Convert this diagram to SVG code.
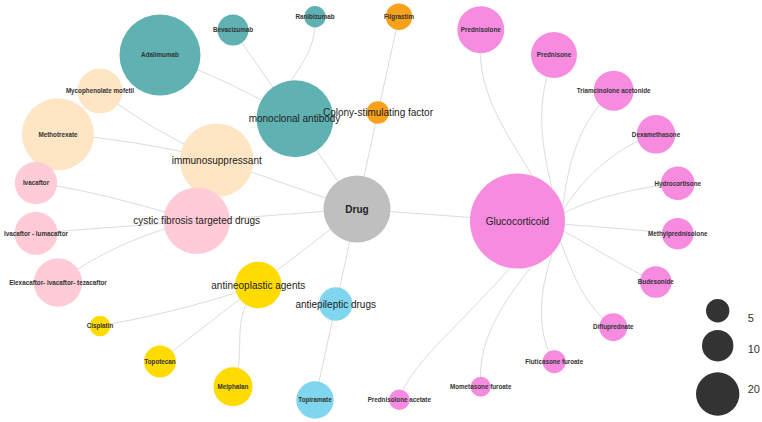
<svg xmlns="http://www.w3.org/2000/svg" width="762" height="422" viewBox="0 0 762 422">
<style>
.e{fill:none;stroke:#dcdcdc;stroke-width:1}
.lf{font-family:"Liberation Sans",Arial,sans-serif;font-size:6.3px;font-weight:bold;fill:#333;text-anchor:middle}
.ct{font-family:"Liberation Sans",Arial,sans-serif;font-size:10px;fill:#222;text-anchor:middle}
.teal{fill:#60b2b2}.peach{fill:#fee5c3}.pink{fill:#ffcbd7}.gold{fill:#ffdb00}.blue{fill:#7fd6ee}.orange{fill:#f8a11b}.mag{fill:#f68be0}.gray{fill:#bfbfbf}
.lg{fill:#333}
.lt{font-family:"Liberation Sans",Arial,sans-serif;font-size:11px;fill:#333}
</style>
<rect width="762" height="422" fill="#fff"/>
<g id="edges">
<path class="e" d="M357,209 L517,221"/>
<path class="e" d="M357,209 L295,119"/>
<path class="e" d="M357,209 L378,112"/>
<path class="e" d="M357,209 L217,160"/>
<path class="e" d="M357,209 L197,221"/>
<path class="e" d="M357,209 L258,285"/>
<path class="e" d="M357,209 L336,304"/>
<path class="e" d="M378,112 L399,17"/>
<path class="e" d="M160,55 Q230,80 295,119"/>
<path class="e" d="M233,30 L295,119"/>
<path class="e" d="M315,17 C317,45 302,64 290,82 L295,119"/>
<path class="e" d="M100,91 Q150,130 217,160"/>
<path class="e" d="M58,134 Q140,140 217,160"/>
<path class="e" d="M36,183 C90,190 140,205 197,221"/>
<path class="e" d="M36,233 L197,221"/>
<path class="e" d="M58,282 Q125,235 197,221"/>
<path class="e" d="M100,326 Q190,310 258,285"/>
<path class="e" d="M160,361 L258,285"/>
<path class="e" d="M233,387 C248,350 228,320 258,285"/>
<path class="e" d="M315,400 L336,304"/>
<path class="e" d="M481,30 C474,90 505,130 533,177 L517,221"/>
<path class="e" d="M554,55 C536,100 540,140 552,188 L517,221"/>
<path class="e" d="M614,91 C585,115 570,150 563,205 L517,221"/>
<path class="e" d="M656,134 C620,145 585,175 563,210 L517,221"/>
<path class="e" d="M678,183 C640,188 600,195 564,213 L517,221"/>
<path class="e" d="M678,234 Q620,228 517,221"/>
<path class="e" d="M656,282 C620,265 590,245 565,232 L517,221"/>
<path class="e" d="M613,327 C585,305 575,280 560,240 L517,221"/>
<path class="e" d="M554,362 C535,330 540,290 552,254 L517,221"/>
<path class="e" d="M481,387 C476,340 505,300 532,266 L517,221"/>
<path class="e" d="M399,400 C410,365 450,335 510,268 L517,221"/>
</g>
<g id="n-adalimumab"><circle class="teal" cx="160" cy="55" r="40.5"/><text class="lf" x="160" y="57.2">Adalimumab</text></g>
<g id="n-bevacizumab"><circle class="teal" cx="233" cy="30" r="15.5"/><text class="lf" x="233" y="32.2">Bevacizumab</text></g>
<g id="n-ranibizumab"><circle class="teal" cx="315" cy="16.7" r="10.7"/><text class="lf" x="315" y="18.9">Ranibizumab</text></g>
<g id="n-filgrastim"><circle class="orange" cx="399" cy="16.7" r="13.2"/><text class="lf" x="399" y="18.9">Filgrastim</text></g>
<g id="n-mycophenolate"><circle class="peach" cx="100" cy="91" r="22.5"/><text class="lf" x="100" y="93.2">Mycophenolate mofetil</text></g>
<g id="n-methotrexate"><circle class="peach" cx="58" cy="134.3" r="36"/><text class="lf" x="58" y="136.5">Methotrexate</text></g>
<g id="n-ivacaftor"><circle class="pink" cx="36" cy="183" r="21.2"/><text class="lf" x="36" y="185.2">Ivacaftor</text></g>
<g id="n-ivacaftor-lumacaftor"><circle class="pink" cx="36" cy="233.3" r="21.5"/><text class="lf" x="36" y="235.5">Ivacaftor - lumacaftor</text></g>
<g id="n-elexacaftor"><circle class="pink" cx="58" cy="282.5" r="24.2"/><text class="lf" x="58" y="284.7">Elexacaftor- ivacaftor- tezacaftor</text></g>
<g id="n-cisplatin"><circle class="gold" cx="100" cy="326" r="10.3"/><text class="lf" x="100" y="328.2">Cisplatin</text></g>
<g id="n-topotecan"><circle class="gold" cx="160" cy="361.5" r="16"/><text class="lf" x="160" y="363.7">Topotecan</text></g>
<g id="n-melphalan"><circle class="gold" cx="233" cy="386.7" r="19.5"/><text class="lf" x="233" y="388.9">Melphalan</text></g>
<g id="n-topiramate"><circle class="blue" cx="315" cy="400" r="18.7"/><text class="lf" x="315" y="402.2">Topiramate</text></g>
<g id="n-prednisolone-acetate"><circle class="mag" cx="399.3" cy="399.7" r="10.3"/><text class="lf" x="399.3" y="401.9">Prednisolone acetate</text></g>
<g id="n-mometasone"><circle class="mag" cx="480.7" cy="386.7" r="10"/><text class="lf" x="480.7" y="388.9">Mometasone furoate</text></g>
<g id="n-fluticasone"><circle class="mag" cx="554.2" cy="361.7" r="11.5"/><text class="lf" x="554.2" y="363.9">Fluticasone furoate</text></g>
<g id="n-difluprednate"><circle class="mag" cx="613.3" cy="327.2" r="14"/><text class="lf" x="613.3" y="329.4">Difluprednate</text></g>
<g id="n-budesonide"><circle class="mag" cx="655.8" cy="282" r="15.8"/><text class="lf" x="655.8" y="284.2">Budesonide</text></g>
<g id="n-methylprednisolone"><circle class="mag" cx="677.8" cy="233.7" r="15.8"/><text class="lf" x="677.8" y="235.9">Methylprednisolone</text></g>
<g id="n-hydrocortisone"><circle class="mag" cx="677.8" cy="183.3" r="16.8"/><text class="lf" x="677.8" y="185.5">Hydrocortisone</text></g>
<g id="n-dexamethasone"><circle class="mag" cx="656" cy="134.3" r="19.3"/><text class="lf" x="656" y="136.5">Dexamethasone</text></g>
<g id="n-triamcinolone"><circle class="mag" cx="613.7" cy="90.7" r="20"/><text class="lf" x="613.7" y="92.9">Triamcinolone acetonide</text></g>
<g id="n-prednisone"><circle class="mag" cx="554" cy="55" r="23"/><text class="lf" x="554" y="57.2">Prednisone</text></g>
<g id="n-prednisolone"><circle class="mag" cx="480.8" cy="29.7" r="23.5"/><text class="lf" x="480.8" y="31.9">Prednisolone</text></g>
<g id="n-immunosuppressant"><circle class="peach" cx="216.7" cy="160.3" r="36.8"/><text class="ct" x="216.7" y="163.8">immunosuppressant</text></g>
<g id="n-cystic"><circle class="pink" cx="196.7" cy="220.8" r="33.3"/><text class="ct" x="196.7" y="224.3">cystic fibrosis targeted drugs</text></g>
<g id="n-mab"><circle class="teal" cx="295" cy="118.8" r="38.5"/><text class="ct" x="294.5" y="122.3">monoclonal antibody</text></g>
<g id="n-csf"><circle class="orange" cx="377.8" cy="112.5" r="11.2"/><text class="ct" x="378" y="116">Colony-stimulating factor</text></g>
<g id="n-antineoplastic"><circle class="gold" cx="258.3" cy="285" r="23.3"/><text class="ct" x="258.3" y="288.5">antineoplastic agents</text></g>
<g id="n-antiepileptic"><circle class="blue" cx="335.7" cy="304" r="16.7"/><text class="ct" x="335.7" y="307.5">antiepileptic drugs</text></g>
<g id="n-drug"><circle class="gray" cx="357" cy="209" r="33.5"/><text class="ct" x="357" y="212.5" font-weight="bold">Drug</text></g>
<g id="n-glucocorticoid"><circle class="mag" cx="517.5" cy="221" r="47.5"/><text class="ct" x="517.5" y="224.5">Glucocorticoid</text></g>
<g id="legend">
<circle class="lg" cx="717.7" cy="310.7" r="11.7"/>
<circle class="lg" cx="717.7" cy="345.7" r="15.7"/>
<circle class="lg" cx="717.7" cy="394" r="21.7"/>
<text class="lt" x="747.7" y="321.5">5</text>
<text class="lt" x="747.7" y="353.3">10</text>
<text class="lt" x="747.7" y="393.3">20</text>
</g>
</svg>
